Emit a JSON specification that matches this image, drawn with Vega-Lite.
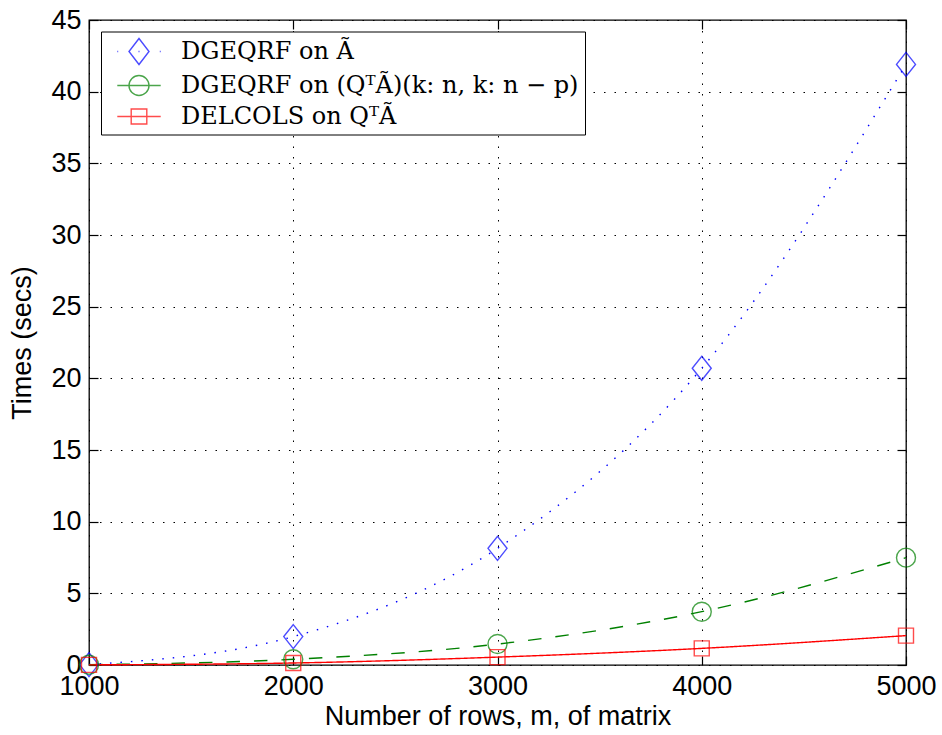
{
  "$schema": "https://vega.github.io/schema/vega-lite/v6.json",
  "width": 817,
  "height": 645,
  "autosize": {"type": "none"},
  "padding": {"left": 89, "top": 20, "right": 36, "bottom": 70},
  "background": "white",
  "config": {
    "view": {"stroke": "black", "strokeWidth": 1.3},
    "font": "Liberation Sans"
  },
  "data": {
    "values": [
      {"s": "DGEQRF on Ã", "m": 1000, "t": 0.03},
      {"s": "DGEQRF on Ã", "m": 2000, "t": 1.98},
      {"s": "DGEQRF on Ã", "m": 3000, "t": 8.14},
      {"s": "DGEQRF on Ã", "m": 4000, "t": 20.7},
      {"s": "DGEQRF on Ã", "m": 5000, "t": 41.9},
      {"s": "DGEQRF on (QᵀÃ)(k: n, k: n − p)", "m": 1000, "t": 0.02},
      {"s": "DGEQRF on (QᵀÃ)(k: n, k: n − p)", "m": 2000, "t": 0.4},
      {"s": "DGEQRF on (QᵀÃ)(k: n, k: n − p)", "m": 3000, "t": 1.46},
      {"s": "DGEQRF on (QᵀÃ)(k: n, k: n − p)", "m": 4000, "t": 3.72},
      {"s": "DGEQRF on (QᵀÃ)(k: n, k: n − p)", "m": 5000, "t": 7.49},
      {"s": "DELCOLS on QᵀÃ", "m": 1000, "t": 0.01},
      {"s": "DELCOLS on QᵀÃ", "m": 2000, "t": 0.14},
      {"s": "DELCOLS on QᵀÃ", "m": 3000, "t": 0.55},
      {"s": "DELCOLS on QᵀÃ", "m": 4000, "t": 1.16},
      {"s": "DELCOLS on QᵀÃ", "m": 5000, "t": 2.05}
    ]
  },
  "resolve": {"axis": {"x": "independent", "y": "independent"}},
  "layer": [
    {
      "mark": {"type": "line", "interpolate": "monotone", "strokeWidth": 1.4},
      "encoding": {
        "x": {
          "field": "m", "type": "quantitative",
          "scale": {"domain": [1000, 5000], "nice": false, "zero": false},
          "axis": {
            "orient": "bottom", "values": [1000, 2000, 3000, 4000, 5000], "format": "d",
            "grid": true, "gridColor": "black", "gridDash": [1.5, 9], "gridWidth": 1, "gridOpacity": 1,
            "domain": false, "tickSize": -9, "tickColor": "black", "tickWidth": 1.2,
            "labelPadding": 17, "labelFont": "Liberation Sans", "labelFontSize": 27, "labelColor": "black", "labelFlush": false,
            "title": "Number of rows, m, of matrix", "titleFont": "Liberation Sans", "titleFontSize": 27,
            "titleFontWeight": "normal", "titleColor": "black", "titlePadding": 4
          }
        },
        "y": {
          "field": "t", "type": "quantitative",
          "scale": {"domain": [0, 45], "nice": false, "zero": true},
          "axis": {
            "orient": "left", "values": [0, 5, 10, 15, 20, 25, 30, 35, 40, 45],
            "grid": true, "gridColor": "black", "gridDash": [1.5, 9], "gridWidth": 1, "gridOpacity": 1,
            "domain": false, "tickSize": -9, "tickColor": "black", "tickWidth": 1.2,
            "labelPadding": 17, "labelFont": "Liberation Sans", "labelFontSize": 27, "labelColor": "black", "labelFlush": false,
            "title": "Times (secs)", "titleFont": "Liberation Sans", "titleFontSize": 27,
            "titleFontWeight": "normal", "titleColor": "black", "titlePadding": 14
          }
        },
        "color": {
          "field": "s", "type": "nominal",
          "scale": {
            "domain": ["DGEQRF on Ã", "DGEQRF on (QᵀÃ)(k: n, k: n − p)", "DELCOLS on QᵀÃ"],
            "range": ["#0000ff", "#008000", "#ff0000"]
          }
        },
        "strokeDash": {
          "field": "s", "type": "nominal",
          "scale": {
            "domain": ["DELCOLS on QᵀÃ", "DGEQRF on Ã", "DGEQRF on (QᵀÃ)(k: n, k: n − p)"],
            "range": [[1, 0], [1.5, 9], [13.5, 14]]
          },
          "legend": null
        }
      }
    },
    {
      "transform": [{"filter": {"field": "s", "equal": "DGEQRF on Ã"}}],
      "mark": {"type": "point", "filled": false, "strokeWidth": 1.4, "size": 625, "shape": "M0,-0.96L0.76,0L0,0.96L-0.76,0Z"},
      "encoding": {
        "x": {"field": "m", "type": "quantitative", "axis": null},
        "y": {"field": "t", "type": "quantitative", "axis": null},
        "color": {"field": "s", "type": "nominal"}
      }
    },
    {
      "transform": [{"filter": {"field": "s", "equal": "DGEQRF on (QᵀÃ)(k: n, k: n − p)"}}],
      "mark": {"type": "point", "filled": false, "strokeWidth": 1.4, "size": 625, "shape": "M0.76,0A0.76,0.76,0,1,1,-0.76,0A0.76,0.76,0,1,1,0.76,0Z"},
      "encoding": {
        "x": {"field": "m", "type": "quantitative", "axis": null},
        "y": {"field": "t", "type": "quantitative", "axis": null},
        "color": {"field": "s", "type": "nominal"}
      }
    },
    {
      "transform": [{"filter": {"field": "s", "equal": "DELCOLS on QᵀÃ"}}],
      "mark": {"type": "point", "filled": false, "strokeWidth": 1.4, "size": 625, "shape": "M-0.6,-0.6L0.6,-0.6L0.6,0.6L-0.6,0.6Z"},
      "encoding": {
        "x": {"field": "m", "type": "quantitative", "axis": null},
        "y": {"field": "t", "type": "quantitative", "axis": null},
        "color": {"field": "s", "type": "nominal"}
      }
    },
    {
      "mark": {"type": "point", "filled": false, "strokeWidth": 1.4, "opacity": 0},
      "encoding": {
        "x": {
          "field": "m", "type": "quantitative",
          "axis": {
            "orient": "top", "values": [1000, 2000, 3000, 4000, 5000], "labels": false, "grid": false,
            "domain": false, "tickSize": -9, "tickColor": "black", "tickWidth": 1.2, "title": null
          }
        },
        "y": {
          "field": "t", "type": "quantitative",
          "axis": {
            "orient": "right", "values": [0, 5, 10, 15, 20, 25, 30, 35, 40, 45], "labels": false, "grid": false,
            "domain": false, "tickSize": -9, "tickColor": "black", "tickWidth": 1.2, "title": null
          }
        },
        "color": {
          "field": "s", "type": "nominal",
          "legend": {
            "title": null, "orient": "none", "legendX": 12, "legendY": 11.5,
            "fillColor": "white", "strokeColor": "black", "padding": 6,
            "labelFont": "DejaVu Serif", "labelFontSize": 24, "labelColor": "black", "labelOffset": 28, "labelLimit": 0,
            "symbolSize": 676, "symbolStrokeWidth": 1.4, "symbolFillColor": "transparent", "symbolOffset": 18,
            "symbolOpacity": 1, "rowPadding": 4
          }
        },
        "shape": {
          "field": "s", "type": "nominal",
          "scale": {
            "domain": ["DGEQRF on Ã", "DGEQRF on (QᵀÃ)(k: n, k: n − p)", "DELCOLS on QᵀÃ"],
            "range": [
              "M-1.67,0L-1.6,0M-0.04,0L0.04,0M1.6,0L1.67,0M0,-1L0.77,0L0,1L-0.77,0Z",
              "M-1.67,0L1.67,0M0.77,0A0.77,0.77,0,1,1,-0.77,0A0.77,0.77,0,1,1,0.77,0Z",
              "M-1.67,0L1.67,0M-0.6,-0.58L0.6,-0.58L0.6,0.58L-0.6,0.58Z"
            ]
          },
          "legend": null
        }
      }
    }
  ]
}
